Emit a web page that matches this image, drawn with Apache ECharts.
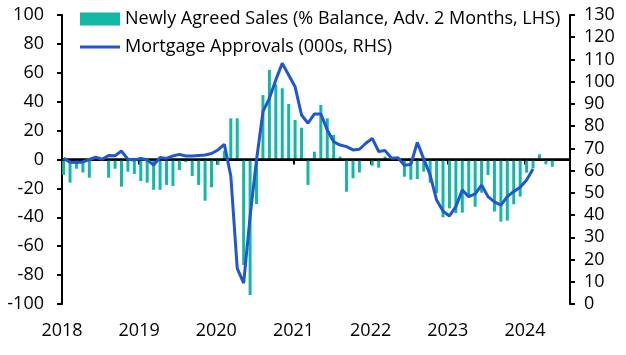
<!DOCTYPE html>
<html>
<head>
<meta charset="utf-8">
<script src="https://cdn.jsdelivr.net/npm/echarts@6/dist/echarts.min.js"></script>
<style>html,body{margin:0;padding:0;background:#fff}#c{width:626px;height:355px}</style>
</head>
<body>
<div id="c"></div>
<script>
// Monthly data starting January 2018
var startYear = 2018;
var yearTicks = [2018, 2019, 2020, 2021, 2022, 2023, 2024];
var leftTicks = [-100, -80, -60, -40, -20, 0, 20, 40, 60, 80, 100];
var rightTicks = [0, 10, 20, 30, 40, 50, 60, 70, 80, 90, 100, 110, 120, 130];

// Newly Agreed Sales (% Balance, Adv. 2 Months, LHS)
var salesBalance = [
  -10.7, -16, -6.4, -9, -12.6, 1, 1, -12.6, -6.4, -18.8, -8.4, -10,
  -14.9, -16, -21, -21, -17.6, -18.3, -7.3, -1.7, -11.4, -17.6, -28.5, -19.2,
  -3.8, 6, 28.5, 28.5, -73, -93.8, -30.8, 44.6, 62, 52, 49.3, 38.4,
  27.3, 22, -17.6, 5.4, 37.7, 28.5, 17, 2, -22.3, -13, -9, 0.5,
  -4.3, -5.7, 2, 1, 0, -11.9, -14, -13.5, -8.4, -16, -23.4, -40,
  -33.8, -37.2, -36.8, -24.6, -32.7, -23, -10.7, -36, -43, -42.3, -31, -25.7,
  -9.1, -6.1, 3.6, -3.3, -5
];

// Mortgage Approvals (000s, RHS)
var mortgageApprovals = [
  65.5, 63.8, 63.6, 63.9, 65.0, 66.0, 65.1, 66.8, 66.7, 68.8, 65.1, 64.8,
  65.5, 64.8, 62.5, 65.9, 65.5, 66.6, 67.3, 66.6, 66.6, 66.8, 67.0, 67.7,
  69.3, 71.8, 57.6, 16, 9.4, 39.3, 64.8, 86.5, 92.5, 100.8, 108.3, 103,
  97.7, 85, 81.3, 85.5, 85.5, 78.3, 73, 71.5, 70.8, 69.3, 69.6, 72.3,
  74.5, 68.6, 69.0, 65.6, 65.8, 62.4, 62.8, 72.7, 65.3, 58.0, 46.8, 41.8,
  39.6, 43.8, 51.3, 48.3, 49.5, 53.5, 48.3, 45.9, 44.5, 48.3, 50.6, 52.5,
  55.8, 60.7
];

function monthX(i) { return startYear + (i + 0.25) / 12; }
var barData = salesBalance.map(function (v, i) { return [monthX(i), v]; });
var lineData = mortgageApprovals.map(function (v, i) { return [monthX(i), v]; });

var FONT = 'Open Sans';
var FS = 18;
var BAR_COLOR = '#12B8A6';
var LINE_COLOR = '#2057CF';
var chart = echarts.init(document.getElementById('c'), null, {renderer: 'canvas'});
chart.setOption({
  animation: false,
  textStyle: {fontFamily: FONT},
  grid: {left: 62, right: 56, top: 15, bottom: 51},
  legend: {
    orient: 'vertical', left: 80, top: 9, padding: 0, itemWidth: 40, itemHeight: 13, itemGap: 8,
    textStyle: {fontFamily: FONT, fontSize: FS, lineHeight: 20, color: '#000'},
    data: [
      {name: 'Newly Agreed Sales (% Balance, Adv. 2 Months, LHS)', icon: 'rect'},
      {name: 'Mortgage Approvals (000s, RHS)', icon: 'path://M0,0L0,0ZM0,5L40,5L40,8L0,8ZM0,13L0,13Z'}
    ]
  },
  xAxis: {
    type: 'value', min: yearTicks[0], max: startYear + 79 / 12, interval: 1,
    axisLine: {show: true, lineStyle: {color: '#000', width: 2}},
    axisTick: {show: true, length: 5, lineStyle: {color: '#000', width: 2}},
    axisLabel: {
      color: '#000', fontSize: FS, fontFamily: FONT, margin: 18,
      formatter: function (v) { return yearTicks.indexOf(Math.round(v * 1000) / 1000) >= 0 ? String(v) : ''; }
    },
    splitLine: {show: false}
  },
  yAxis: [
    {
      type: 'value', min: leftTicks[0], max: leftTicks[leftTicks.length - 1], interval: 20,
      axisLine: {show: true, lineStyle: {color: '#000', width: 2}},
      axisTick: {show: true, length: 5, lineStyle: {color: '#000', width: 2}},
      axisLabel: {color: '#000', fontSize: FS, fontFamily: FONT, margin: 18},
      splitLine: {show: false}
    },
    {
      type: 'value', min: rightTicks[0], max: rightTicks[rightTicks.length - 1], interval: 10,
      position: 'right',
      axisLine: {show: true, lineStyle: {color: '#000', width: 2}},
      axisTick: {show: true, length: 5, lineStyle: {color: '#000', width: 2}},
      axisLabel: {color: '#000', fontSize: FS, fontFamily: FONT, margin: 14},
      splitLine: {show: false}
    }
  ],
  series: [
    {
      name: 'Newly Agreed Sales (% Balance, Adv. 2 Months, LHS)',
      type: 'bar', yAxisIndex: 0, barWidth: 3,
      itemStyle: {color: BAR_COLOR},
      data: barData,
      markLine: {
        silent: true, symbol: ['none', 'none'], label: {show: false},
        lineStyle: {color: '#000', width: 2.5, type: 'solid'},
        data: [{yAxis: 0}]
      }
    },
    {
      name: 'Mortgage Approvals (000s, RHS)',
      type: 'line', yAxisIndex: 1, showSymbol: false, symbol: 'none',
      lineStyle: {color: LINE_COLOR, width: 3},
      itemStyle: {color: LINE_COLOR},
      data: lineData, z: 5
    }
  ]
});
</script>
</body>
</html>
